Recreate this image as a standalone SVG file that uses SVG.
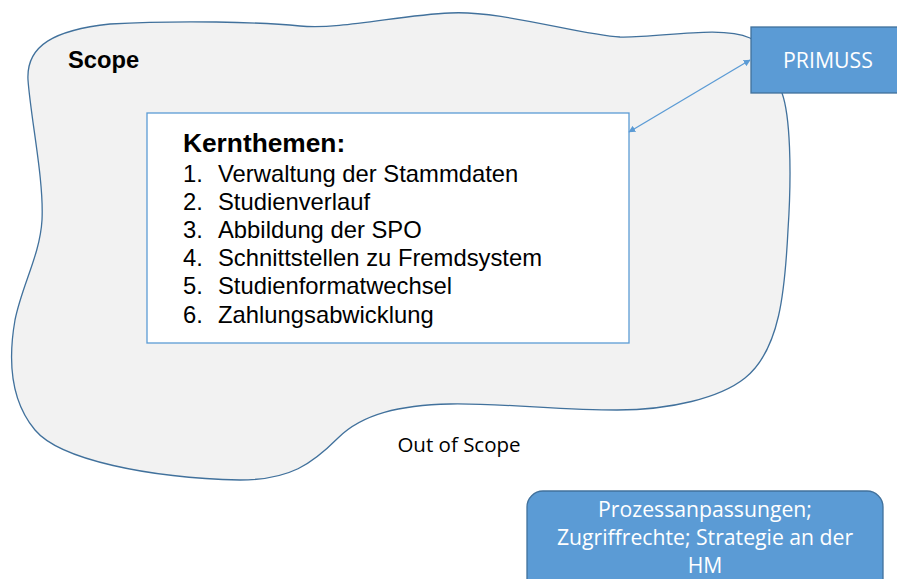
<svg xmlns="http://www.w3.org/2000/svg" width="897" height="579" viewBox="0 0 897 579">
<style>
.cloud{fill:#F2F2F2;stroke:#41719C;stroke-width:1.3}
.core{fill:#FFFFFF;stroke:#5B9BD5;stroke-width:1.3}
.blue{fill:#5B9BD5;stroke:#41719C;stroke-width:1.3}
.h{font-family:"Liberation Sans",Arial,sans-serif;font-weight:bold;fill:#000}
.li{font-family:"Liberation Sans",Arial,sans-serif;font-size:23.8px;fill:#000}
.w{font-family:"Open Sans","Liberation Sans",sans-serif;fill:#FFFFFF;text-anchor:middle}
.k{font-family:"Open Sans","Liberation Sans",sans-serif;fill:#000}
.conn{stroke:#5B9BD5;stroke-width:1.3;fill:none}
</style>
<defs>
<marker id="ah" viewBox="0 0 10 10" refX="9" refY="5" markerWidth="7" markerHeight="7" orient="auto-start-reverse" markerUnits="userSpaceOnUse"><path d="M0,0 L10,5 L0,10 Z" fill="#5B9BD5"/></marker>
</defs>
<g id="scope">
<path class="cloud" d="M28,80 C26,45 55,30 110,24 C180,20 260,22 300,26 C340,30 400,15 450,13 C500,10 580,35 620,37 C660,38 720,25 750,38 C770,48 780,70 782,93 C790,115 792,170 788,230 C785,290 780,350 745,378 C720,398 670,410 617,410 C560,410 500,403 450,404 C400,405 362,414 338,438 C312,464 290,480 240,480 C150,478 60,460 35,430 C10,400 8,360 15,320 C22,285 40,255 42,220 C44,180 31,120 28,80 Z"/>
<text class="h" x="68" y="68" font-size="23.7">Scope</text>
</g>
<g id="kernthemen">
<rect class="core" x="147" y="113" width="482" height="230"/>
<text class="h" x="183" y="152" font-size="26.3">Kernthemen:</text>
<text class="li" x="183" y="182">1.</text><text class="li" x="218" y="182">Verwaltung der Stammdaten</text>
<text class="li" x="183" y="210">2.</text><text class="li" x="218" y="210">Studienverlauf</text>
<text class="li" x="183" y="238">3.</text><text class="li" x="218" y="238">Abbildung der SPO</text>
<text class="li" x="183" y="266">4.</text><text class="li" x="218" y="266">Schnittstellen zu Fremdsystem</text>
<text class="li" x="183" y="294">5.</text><text class="li" x="218" y="294">Studienformatwechsel</text>
<text class="li" x="183" y="323">6.</text><text class="li" x="218" y="323">Zahlungsabwicklung</text>
</g>
<g id="primuss">
<rect class="blue" x="751" y="27" width="150" height="66"/>
<text class="w" x="828" y="68" font-size="21.3">PRIMUSS</text>
</g>
<g id="outofscope">
<text class="k" x="459" y="452" font-size="20.5" text-anchor="middle">Out of Scope</text>
</g>
<g id="outbox">
<rect class="blue" x="527" y="491" width="356" height="110" rx="16"/>
<text class="w" x="705" y="517" font-size="21.2">Prozessanpassungen;</text>
<text class="w" x="705" y="545" font-size="21.2">Zugriffrechte; Strategie an der</text>
<text class="w" x="705" y="573" font-size="21.2">HM</text>
</g>
<g id="connectors">
<line class="conn" x1="629" y1="132" x2="750" y2="60" marker-start="url(#ah)" marker-end="url(#ah)"/>
</g>
</svg>
